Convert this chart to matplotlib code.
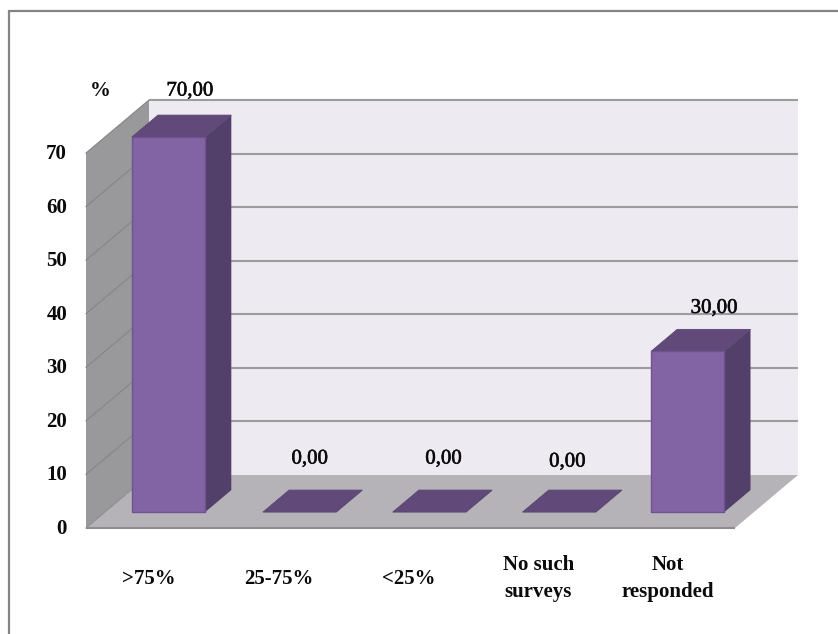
import matplotlib
matplotlib.use('Agg')
import matplotlib.pyplot as plt
import matplotlib.patheffects as pe
from matplotlib.patches import Polygon, Rectangle

# valeurs
categories = ['>75%', '25-75%', '<25%', 'No such\nsurveys', 'Not\nresponded']
values = [70, 0, 0, 0, 30]
value_labels = ['70,00', '0,00', '0,00', '0,00', '30,00']
yticks = [0, 10, 20, 30, 40, 50, 60, 70]

W, H = 838, 634
plt.rcParams['font.family'] = ['Liberation Serif', 'DejaVu Serif']

fig = plt.figure(figsize=(W / 100, H / 100), dpi=100)
ax = fig.add_axes([0, 0, 1, 1])
ax.set_xlim(0, W)
ax.set_ylim(H, 0)
ax.axis('off')

# repere pseudo 3D : x en categories, y en %, d en profondeur (0 devant, 1 fond)
X0, Y0 = 86, 528
CAT_W = 129.8
PX_PER_UNIT = 5.357
DX, DY = 63, -53


def pt(x, v, d=0.0):
    return (X0 + x * CAT_W + d * DX, Y0 - v * PX_PER_UNIT + d * DY)


def poly(points, fc, ec='none', lw=0, z=1):
    ax.add_patch(Polygon(points, closed=True, fc=fc, ec=ec, lw=lw, zorder=z))


n = len(categories)
vmax = yticks[-1]

# cadre (coupe a droite et en bas par le bord de l'image)
ax.add_patch(Rectangle((9, 11), 900, 700, fc='white', ec='#858585', lw=1.6, zorder=0))

# murs et sol
poly([pt(0, 0, 1), pt(n, 0, 1), pt(n, vmax, 1), pt(0, vmax, 1)], '#edebf1')
poly([pt(0, 0), pt(0, 0, 1), pt(0, vmax, 1), pt(0, vmax)], '#99989b')
poly([pt(0, 0), pt(n, 0), pt(n, 0, 1), pt(0, 0, 1)], '#b5b3b7')

# grille
for v in yticks:
    if v > 0:
        xs, ys = zip(pt(0, v, 1), pt(n, v, 1))
        ax.plot(xs, ys, color='#9c9c9c', lw=1.5, zorder=2, solid_capstyle='butt')
        xs, ys = zip(pt(0, v), pt(0, v, 1))
        ax.plot(xs, ys, color='#858487', lw=0.8, zorder=2)
xs, ys = zip(pt(0, 0), pt(n, 0))
ax.plot(xs, ys, color='#8e8d91', lw=1.5, zorder=2, solid_capstyle='butt')
xs, ys = zip(pt(0, 0, 1), pt(0, 0))
ax.plot(xs, ys, color='#8e8d91', lw=0.8, zorder=2)

# barres
BAR_W = 0.565
D1, D2 = 0.30, 0.715
for i, v in enumerate(values):
    # les barres non nulles sont un peu plus a gauche sur l'original
    shift = 0.01 if v > 0 else 0
    x1 = i + 0.5 - BAR_W / 2 - shift
    x2 = i + 0.5 + BAR_W / 2 - shift
    if v > 0:
        poly([pt(x1, 0, D1), pt(x2, 0, D1), pt(x2, v, D1), pt(x1, v, D1)],
             '#8263a3', ec='#6e5390', lw=1, z=4)
        poly([pt(x2, 0, D1), pt(x2, 0, D2), pt(x2, v, D2), pt(x2, v, D1)],
             '#523f6a', z=3)
    poly([pt(x1, v, D1), pt(x2, v, D1), pt(x2, v, D2), pt(x1, v, D2)],
         '#614a7a', ec='#5a4572', lw=0.6, z=3)

# textes
for v in yticks:
    ax.text(67, pt(0, v)[1] + 1, str(v), ha='right', va='center', fontsize=15,
            fontweight='bold', color='#0a0a0a', zorder=6)
ax.text(100, 91, '%', ha='center', va='center', fontsize=15, fontweight='bold',
        color='#0a0a0a', zorder=6)

for i, lab in enumerate(categories):
    ax.text(pt(i + 0.5, 0)[0] - 2, 578.5, lab, ha='center', va='center', fontsize=15,
            fontweight='bold', color='#0a0a0a', linespacing=1.45, zorder=6)

# etiquettes placees a la main, decalages en pixels par rapport au haut de la barre
label_dx = [-16, -26, -22, -28, -11]
label_dy = [-24, -31, -31, -28, -21]
for i, lab in enumerate(value_labels):
    cx, cy = pt(i + 0.5, values[i], D2)
    ax.text(cx + 10 + label_dx[i], cy + label_dy[i], lab, ha='center', va='center', fontsize=15,
            color='#0a0a0a', zorder=6,
            path_effects=[pe.withStroke(linewidth=0.4, foreground='#0a0a0a')])

fig.savefig('out.png', dpi=100)
